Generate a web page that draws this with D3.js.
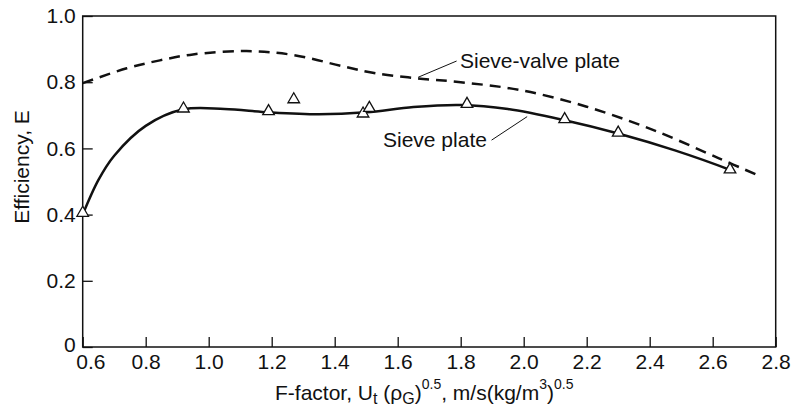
<!DOCTYPE html>
<html><head><meta charset="utf-8">
<script src="https://cdn.jsdelivr.net/npm/d3@7"></script>
<style>body{margin:0;background:#fff}svg{display:block}text{font-family:"Liberation Sans",Arial,sans-serif;fill:#111}</style>
</head><body><svg id="c" width="791" height="409"></svg>
<script>
// Data
const xTicks = [0.6, 0.8, 1.0, 1.2, 1.4, 1.6, 1.8, 2.0, 2.2, 2.4, 2.6, 2.8];
const yTicks = [0, 0.2, 0.4, 0.6, 0.8, 1.0];
const yTickLabels = ["0", "0.2", "0.4", "0.6", "0.8", "1.0"];
// measured points (triangles)
const pointsF = [0.60, 0.92, 1.19, 1.27, 1.49, 1.51, 1.82, 2.13, 2.30, 2.655];
const pointsE = [0.405, 0.72, 0.712, 0.748, 0.705, 0.722, 0.734, 0.688, 0.647, 0.536];
// sieve plate curve
const sieveF = [0.60, 0.65, 0.70, 0.80, 0.92, 1.05, 1.19, 1.35, 1.50, 1.65, 1.80, 1.95, 2.13, 2.30, 2.48, 2.655];
const sieveE = [0.40, 0.505, 0.578, 0.668, 0.718, 0.719, 0.709, 0.703, 0.709, 0.725, 0.731, 0.719, 0.685, 0.645, 0.594, 0.535];
// sieve-valve plate curve
const valveF = [0.60, 0.74, 0.845, 0.95, 1.12, 1.27, 1.43, 1.53, 1.66, 1.80, 1.99, 2.20, 2.41, 2.62, 2.745];
const valveE = [0.797, 0.842, 0.866, 0.884, 0.894, 0.882, 0.847, 0.827, 0.812, 0.800, 0.776, 0.726, 0.656, 0.570, 0.518];
// annotation leaders [F1,E1,F2,E2]
const valveLeader = [1.665, 0.815, 1.787, 0.864];
const sieveLeader = [1.898, 0.625, 2.011, 0.696];

const svg = d3.select("#c");
const x = d3.scaleLinear().domain([0.6, 2.8]).range([82.7, 775.7]);
const y = d3.scaleLinear().domain([0, 1.0]).range([347, 16]);
const FS = 21, SUP = 14, SUB = 16;

// frame
svg.append("rect").attr("x", x(0.6)).attr("y", y(1)).attr("width", x(2.8) - x(0.6)).attr("height", y(0) - y(1))
  .attr("fill", "none").attr("stroke", "#111").attr("stroke-width", 1.5);

// x axis
const xa = svg.append("g").attr("transform", `translate(0,${y(0)})`)
  .call(d3.axisBottom(x).tickValues(xTicks).tickFormat(d3.format(".1f")).tickSizeInner(-10).tickSizeOuter(0).tickPadding(7));
xa.select(".domain").remove();
xa.selectAll("line").attr("stroke", "#111").attr("stroke-width", 1.3);
xa.selectAll("text").attr("font-size", FS).attr("font-family", "Liberation Sans, Arial, sans-serif").attr("fill", "#111");
// first label sits to the right of the corner, clear of the "0"
xa.selectAll(".tick").filter(d => d === 0.6).select("text").attr("text-anchor", "start").attr("x", -7);

// y axis
const ya = svg.append("g").attr("transform", `translate(${x(0.6)},0)`)
  .call(d3.axisLeft(y).tickValues(yTicks).tickFormat((d, i) => yTickLabels[i]).tickSizeInner(-10).tickSizeOuter(0).tickPadding(7));
ya.select(".domain").remove();
ya.selectAll("line").attr("stroke", "#111").attr("stroke-width", 1.3);
ya.selectAll("text").attr("font-size", FS).attr("font-family", "Liberation Sans, Arial, sans-serif").attr("fill", "#111");
ya.selectAll(".tick").filter(d => d === 0).select("text").attr("dy", "0.2em");

// curves
const line = d3.line().x(d => x(d[0])).y(d => y(d[1])).curve(d3.curveCatmullRom.alpha(0.5));
svg.append("path").datum(valveF.map((f, i) => [f, valveE[i]])).attr("d", line)
  .attr("fill", "none").attr("stroke", "#111").attr("stroke-width", 2.5).attr("stroke-dasharray", "11,7");
svg.append("path").datum(sieveF.map((f, i) => [f, sieveE[i]])).attr("d", line)
  .attr("fill", "none").attr("stroke", "#111").attr("stroke-width", 2.5);

// triangles
const tri = d3.symbol().type(d3.symbolTriangle).size(58);
svg.selectAll(".pt").data(pointsF.map((f, i) => [f, pointsE[i]])).join("path")
  .attr("transform", d => `translate(${x(d[0])},${y(d[1])})`).attr("d", tri)
  .attr("fill", "#fff").attr("stroke", "#111").attr("stroke-width", 1.3);

// labels with leaders
svg.append("line").attr("x1", x(valveLeader[0])).attr("y1", y(valveLeader[1])).attr("x2", x(valveLeader[2])).attr("y2", y(valveLeader[3])).attr("stroke", "#111").attr("stroke-width", 1);
svg.append("text").attr("x", 460).attr("y", 68).attr("font-size", FS).text("Sieve-valve plate");
svg.append("line").attr("x1", x(sieveLeader[0])).attr("y1", y(sieveLeader[1])).attr("x2", x(sieveLeader[2])).attr("y2", y(sieveLeader[3])).attr("stroke", "#111").attr("stroke-width", 1);
svg.append("text").attr("x", 383).attr("y", 147).attr("font-size", FS).text("Sieve plate");

// axis titles
svg.append("text").attr("transform", "translate(29,167) rotate(-90)").attr("text-anchor", "middle").attr("font-size", FS).text("Efficiency, E");
const xt = svg.append("text").attr("x", 275).attr("y", 400).attr("font-size", FS);
xt.append("tspan").text("F-factor, U");
xt.append("tspan").attr("font-size", SUB).attr("dy", 4).text("t");
xt.append("tspan").attr("dy", -4).text(" (ρ");
xt.append("tspan").attr("font-size", SUB).attr("dy", 4).text("G");
xt.append("tspan").attr("dy", -4).text(")");
xt.append("tspan").attr("font-size", SUP).attr("dy", -11).text("0.5");
xt.append("tspan").attr("dy", 11).text(", m/s(kg/m");
xt.append("tspan").attr("font-size", SUP).attr("dy", -11).text("3");
xt.append("tspan").attr("dy", 11).text(")");
xt.append("tspan").attr("font-size", SUP).attr("dy", -11).text("0.5");
</script></body></html>
